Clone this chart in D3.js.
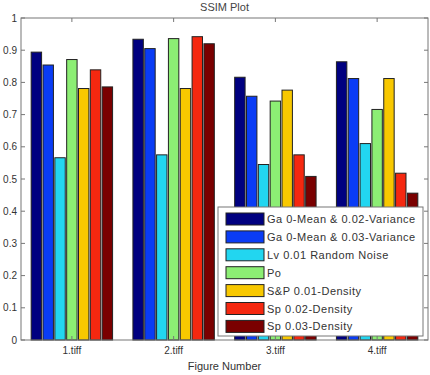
<!DOCTYPE html>
<html>
<head>
<meta charset="utf-8">
<script src="https://cdn.jsdelivr.net/npm/d3@7"></script>
<style>
  body { margin: 0; background: #fff; }
  svg { display: block; font-family: "Liberation Sans", Arial, sans-serif; }
</style>
</head>
<body>
<div id="canvas"></div>
<script>
"use strict";

/* -------------------- Data -------------------- */

let figures = ["1.tiff", "2.tiff", "3.tiff", "4.tiff"];

let seriesNames = [
    "Ga 0-Mean & 0.02-Variance",
    "Ga 0-Mean & 0.03-Variance",
    "Lv 0.01 Random Noise",
    "Po",
    "S&P 0.01-Density",
    "Sp 0.02-Density",
    "Sp 0.03-Density"
];

let gaVar002 = [0.894, 0.934, 0.816, 0.864];
let gaVar003 = [0.854, 0.905, 0.757, 0.812];
let lvNoise = [0.566, 0.575, 0.545, 0.610];
let poNoise = [0.871, 0.936, 0.742, 0.716];
let spDensity001 = [0.781, 0.781, 0.776, 0.812];
let spDensity002 = [0.839, 0.942, 0.575, 0.518];
let spDensity003 = [0.786, 0.920, 0.508, 0.456];

let yTicks = [0, 0.1, 0.2, 0.3, 0.4, 0.5, 0.6, 0.7, 0.8, 0.9, 1];

let colors = ["#000080", "#0a3cf5", "#22d6f0", "#8cee74", "#f8c800", "#f52810", "#7a0000"];

let allSeries = [gaVar002, gaVar003, lvNoise, poNoise, spDensity001, spDensity002, spDensity003];

/* -------------------- Setup -------------------- */

let svgWidth = 430;
let svgHeight = 375;
let plotLeft = 21, plotRight = 428, plotTop = 18, plotBottom = 340;

let svg = d3.select("#canvas")
    .append("svg")
    .attr("width", svgWidth)
    .attr("height", svgHeight);

let xScale = d3.scaleBand()
    .domain(figures)
    .range([plotLeft, plotRight])
    .paddingInner(0.2)
    .paddingOuter(0.1);

let inner = d3.scaleBand()
    .domain(d3.range(seriesNames.length))
    .range([0, xScale.bandwidth()])
    .paddingInner(0.12);

let yScale = d3.scaleLinear()
    .domain([0, 1])
    .range([plotBottom, plotTop]);

/* -------------------- Bars -------------------- */

let groups = svg.selectAll("g.group")
    .data(figures)
    .join("g")
    .attr("class", "group")
    .attr("transform", function (d) {
        return "translate(" + xScale(d) + ",0)";
    });

groups.selectAll("rect")
    .data(function (d, i) {
        return allSeries.map(function (s, k) {
            return { k: k, v: s[i] };
        });
    })
    .join("rect")
    .attr("x", function (d) { return inner(d.k); })
    .attr("y", function (d) { return yScale(d.v); })
    .attr("width", inner.bandwidth())
    .attr("height", function (d) { return plotBottom - yScale(d.v); })
    .attr("fill", function (d) { return colors[d.k]; })
    .attr("stroke", "#222")
    .attr("stroke-width", 1);

/* -------------------- Axes -------------------- */

let axisColor = "#777";

svg.append("rect")
    .attr("x", plotLeft)
    .attr("y", plotTop)
    .attr("width", plotRight - plotLeft)
    .attr("height", plotBottom - plotTop)
    .attr("fill", "none")
    .attr("stroke", axisColor);

/* y ticks, left and right */
yTicks.forEach(function (t) {
    svg.append("line")
        .attr("x1", plotLeft).attr("x2", plotLeft + 4)
        .attr("y1", yScale(t)).attr("y2", yScale(t))
        .attr("stroke", axisColor);
    svg.append("line")
        .attr("x1", plotRight).attr("x2", plotRight - 4)
        .attr("y1", yScale(t)).attr("y2", yScale(t))
        .attr("stroke", axisColor);
    svg.append("text")
        .attr("x", plotLeft - 4)
        .attr("y", yScale(t) + 3.5)
        .attr("text-anchor", "end")
        .attr("font-size", 10)
        .attr("fill", "#333")
        .text(String(t));
});

/* x ticks, bottom and top */
figures.forEach(function (f) {
    let cx = xScale(f) + xScale.bandwidth() / 2;
    svg.append("line")
        .attr("x1", cx).attr("x2", cx)
        .attr("y1", plotBottom).attr("y2", plotBottom - 4)
        .attr("stroke", axisColor);
    svg.append("line")
        .attr("x1", cx).attr("x2", cx)
        .attr("y1", plotTop).attr("y2", plotTop + 4)
        .attr("stroke", axisColor);
    svg.append("text")
        .attr("x", cx)
        .attr("y", plotBottom + 14)
        .attr("text-anchor", "middle")
        .attr("font-size", 10)
        .attr("fill", "#333")
        .text(f);
});

/* Title and label */
svg.append("text")
    .attr("x", (plotLeft + plotRight) / 2)
    .attr("y", 11)
    .attr("text-anchor", "middle")
    .attr("font-size", 11)
    .attr("fill", "#444")
    .text("SSIM Plot");

svg.append("text")
    .attr("x", (plotLeft + plotRight) / 2)
    .attr("y", 370)
    .attr("text-anchor", "middle")
    .attr("font-size", 11)
    .attr("fill", "#333")
    .text("Figure Number");

/* -------------------- Legend -------------------- */

let legX = 218, legY = 207, legW = 205, legH = 129;

svg.append("rect")
    .attr("x", legX)
    .attr("y", legY)
    .attr("width", legW)
    .attr("height", legH)
    .attr("fill", "#fff")
    .attr("stroke", axisColor);

seriesNames.forEach(function (name, k) {
    let rowY = legY + 6 + k * 17.9;
    svg.append("rect")
        .attr("x", legX + 8)
        .attr("y", rowY)
        .attr("width", 38)
        .attr("height", 12)
        .attr("fill", colors[k])
        .attr("stroke", "#222");
    svg.append("text")
        .attr("x", legX + 49)
        .attr("y", rowY + 10)
        .attr("font-size", 11)
        .attr("letter-spacing", 0.5)
        .attr("fill", "#333")
        .text(name);
});
</script>
</body>
</html>
